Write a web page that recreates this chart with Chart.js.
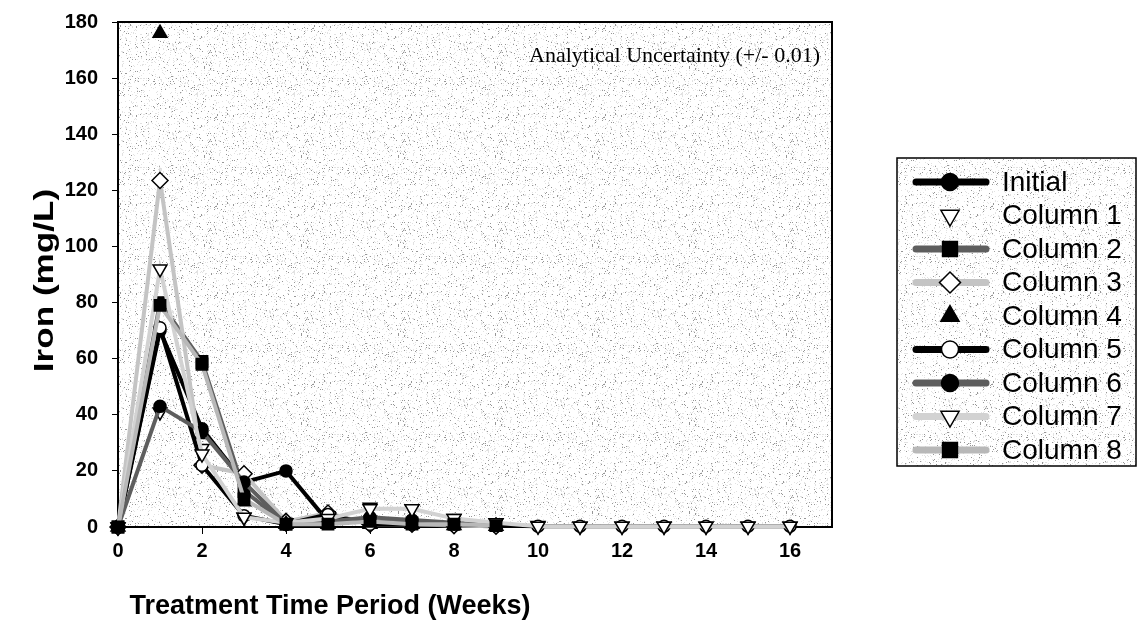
<!DOCTYPE html>
<html lang="en">
<head>
  <meta charset="UTF-8" />
  <title>Iron (mg/L) by Treatment Week</title>
  <script src="https://cdn.jsdelivr.net/npm/chart.js"></script>
  <style>
    html, body {
      margin: 0;
      padding: 0;
      background: #fff;
    }
    canvas { display: block; }
  </style>
</head>
<body>
  <canvas id="ironChart" width="1137" height="623"></canvas>

  <script>
    // ---- data ----
    const weeks = [0, 1, 2, 3, 4, 5, 6, 7, 8, 9, 10, 11, 12, 13, 14, 15, 16];
    const xTicks = [0, 2, 4, 6, 8, 10, 12, 14, 16];
    const yTicks = [0, 20, 40, 60, 80, 100, 120, 140, 160, 180];

    const seriesNames = ['Initial', 'Column 1', 'Column 2', 'Column 3', 'Column 4',
                         'Column 5', 'Column 6', 'Column 7', 'Column 8'];

    const initial = [0, 70, 35, 16, 20, 2, 2, 1, 0.5, 0.3];
    const column1 = [0, 41, 28, 3.5, 1.5, 4, 7, 6.5, 3, 1.5, 0.5, 0.3, 0.3, 0.3, 0.3, 0.3, 0.3];
    const column2 = [0, 80, 59, 13, 1, 2, 2, 1.5, 1, 0.5];
    const column3 = [0, 123.5, 22, 19, 2, 5, 1, 1, 0.5, 0.3];
    const column4 = [0, 176, 33, 9, 1, 1, 1, 1, 0.5, 0.3];
    const column5 = [0, 71, 22, 4, 1, 4.5, 1, 1, 1, 0.5, 0.3, 0.3, 0.3, 0.3, 0.3, 0.3, 0.3];
    const column6 = [0, 43, 34, 16, 1, 2, 3.5, 2.5, 1.5, 0.5];
    const column7 = [0, 92, 26, 3.5, 1.5, 3, 6.5, 6.5, 3, 1.5, 0.3, 0.3, 0.3, 0.3, 0.3, 0.3, 0.3];
    const column8 = [0, 79, 58, 10, 1, 1, 2, 1, 1, 0.5];

    const seriesValues = [initial, column1, column2, column3, column4,
                          column5, column6, column7, column8];

    const noteText = 'Analytical Uncertainty (+/- 0.01)';

    // ---- look of each series ----
    const looks = [
      { line: '#000',    width: 4, show: true,  shape: 'circle',   rot: 0,   r: 6, fill: '#000' },
      { line: '#fff',    width: 2, show: false, shape: 'triangle', rot: 180, r: 8, fill: '#fff' },
      { line: '#5e5e5e', width: 4, show: true,  shape: 'rect',     rot: 0,   r: 8, fill: '#000' },
      { line: '#c4c4c4', width: 4, show: true,  shape: 'rectRot',  rot: 0,   r: 8, fill: '#fff' },
      { line: '#fff',    width: 2, show: false, shape: 'triangle', rot: 0,   r: 8, fill: '#000' },
      { line: '#000',    width: 4, show: true,  shape: 'circle',   rot: 0,   r: 6, fill: '#fff' },
      { line: '#5e5e5e', width: 4, show: true,  shape: 'circle',   rot: 0,   r: 6, fill: '#000' },
      { line: '#d2d2d2', width: 4, show: true,  shape: 'triangle', rot: 180, r: 8, fill: '#fff' },
      { line: '#b8b8b8', width: 4, show: true,  shape: 'rect',     rot: 0,   r: 8, fill: '#000' }
    ];

    const sans = '"Liberation Sans", Arial, sans-serif';
    const serif = '"Liberation Serif", "Times New Roman", serif';

    // speckled grey fill used behind the plot and the legend
    function makeStipple() {
      const c = document.createElement('canvas');
      c.width = 97;
      c.height = 89;
      const g = c.getContext('2d');
      g.fillStyle = '#fff';
      g.fillRect(0, 0, c.width, c.height);
      for (let y = 0; y < c.height; y++) {
        for (let x = 0; x < c.width; x++) {
          let n = Math.imul(x, 374761393) + Math.imul(y, 668265263);
          n = Math.imul(n ^ (n >>> 13), 1274126177);
          const v = ((n ^ (n >>> 16)) >>> 0) / 4294967296;
          if (v < 0.035) {
            g.fillStyle = '#969696';
            g.fillRect(x, y, 1, 1);
          } else if (v < 0.13) {
            g.fillStyle = '#e2e2e2';
            g.fillRect(x, y, 1, 1);
          }
        }
      }
      return c;
    }

    const ctx = document.getElementById('ironChart').getContext('2d');
    const stipple = ctx.createPattern(makeStipple(), 'repeat');

    const datasets = seriesValues.map((vals, i) => {
      const lk = looks[i];
      return {
        label: seriesNames[i],
        data: vals.map((v, k) => ({ x: weeks[k], y: v })),
        showLine: lk.show,
        borderColor: lk.line,
        borderWidth: lk.width,
        pointStyle: lk.shape,
        rotation: lk.rot,
        pointRadius: lk.r,
        pointBackgroundColor: lk.fill,
        pointBorderColor: '#000',
        pointBorderWidth: 1.5,
        tension: 0,
        clip: false,
        order: -i
      };
    });

    const plotDecor = {
      id: 'plotDecor',
      beforeDraw(chart) {
        const c = chart.ctx;
        const a = chart.chartArea;
        c.save();
        c.fillStyle = '#fff';
        c.fillRect(0, 0, chart.width, chart.height);
        c.fillStyle = stipple;
        c.fillRect(a.left, a.top, a.right - a.left, a.bottom - a.top);
        c.restore();
      },
      beforeDatasetsDraw(chart) {
        const c = chart.ctx;
        const a = chart.chartArea;
        c.save();
        c.strokeStyle = '#000';
        c.lineWidth = 2;
        c.beginPath();
        c.moveTo(a.left, a.top);
        c.lineTo(a.right, a.top);
        c.lineTo(a.right, a.bottom);
        c.stroke();
        c.restore();
      },
      afterDraw(chart) {
        const c = chart.ctx;
        const a = chart.chartArea;
        c.save();

        // note in the upper right of the plot
        c.fillStyle = '#000';
        c.font = '22px ' + serif;
        c.textAlign = 'right';
        c.textBaseline = 'middle';
        c.fillText(noteText, a.right - 12, 56);

        // axis titles
        c.font = 'bold 27px ' + sans;
        c.textAlign = 'center';
        c.fillText('Treatment Time Period (Weeks)', 330, 607);
        c.save();
        c.translate(46, (a.top + a.bottom) / 2 + 6);
        c.rotate(-Math.PI / 2);
        c.scale(1.3, 1);
        c.fillText('Iron (mg/L)', 0, 0);
        c.restore();

        // legend box
        const box = { left: 897, top: 158, right: 1136, bottom: 466 };
        c.fillStyle = stipple;
        c.fillRect(box.left, box.top, box.right - box.left, box.bottom - box.top);
        c.strokeStyle = '#000';
        c.lineWidth = 1.5;
        c.strokeRect(box.left, box.top, box.right - box.left, box.bottom - box.top);

        chart.data.datasets.forEach((ds, i) => {
          const lk = looks[i];
          const y = 182 + i * 33.5;
          if (lk.show) {
            c.strokeStyle = lk.line;
            c.lineWidth = lk.width + 3;
            c.lineCap = 'round';
            c.beginPath();
            c.moveTo(916, y);
            c.lineTo(986, y);
            c.stroke();
          }
          c.fillStyle = lk.fill;
          c.strokeStyle = '#000';
          c.lineWidth = 1.5;
          Chart.helpers.drawPoint(c, {
            pointStyle: lk.shape,
            rotation: lk.rot,
            radius: lk.r + 2.5,
            borderWidth: 2
          }, 950, y);
          c.fillStyle = '#000';
          c.font = '28px ' + sans;
          c.textAlign = 'left';
          c.textBaseline = 'middle';
          c.fillText(ds.label, 1002, y + 1);
        });
        c.restore();
      }
    };

    const tickFont = { family: sans, size: 20, weight: 'bold' };

    new Chart(ctx, {
      type: 'line',
      data: { datasets },
      options: {
        responsive: false,
        animation: false,
        devicePixelRatio: 1,
        layout: { padding: { top: 22, right: 305, left: 0, bottom: 0 } },
        plugins: {
          legend: { display: false },
          tooltip: { enabled: false }
        },
        scales: {
          x: {
            type: 'linear',
            min: 0,
            max: 17,
            afterBuildTicks: s => { s.ticks = xTicks.map(v => ({ value: v })); },
            afterFit: s => { s.height = 96; s.paddingLeft = 0; s.paddingRight = 0; },
            grid: { drawOnChartArea: false, tickLength: 7, color: '#000', lineWidth: 1 },
            border: { display: true, color: '#000', width: 2 },
            ticks: { color: '#000', font: tickFont, padding: 5, maxRotation: 0, autoSkip: false }
          },
          y: {
            min: 0,
            max: 180,
            afterBuildTicks: s => { s.ticks = yTicks.map(v => ({ value: v })); },
            afterFit: s => { s.width = 118; s.paddingTop = 0; s.paddingBottom = 0; },
            grid: { drawOnChartArea: false, tickLength: 6, color: '#000', lineWidth: 1 },
            border: { display: true, color: '#000', width: 2 },
            ticks: { color: '#000', font: tickFont, padding: 14 }
          }
        }
      },
      plugins: [plotDecor]
    });
  </script>
</body>
</html>
